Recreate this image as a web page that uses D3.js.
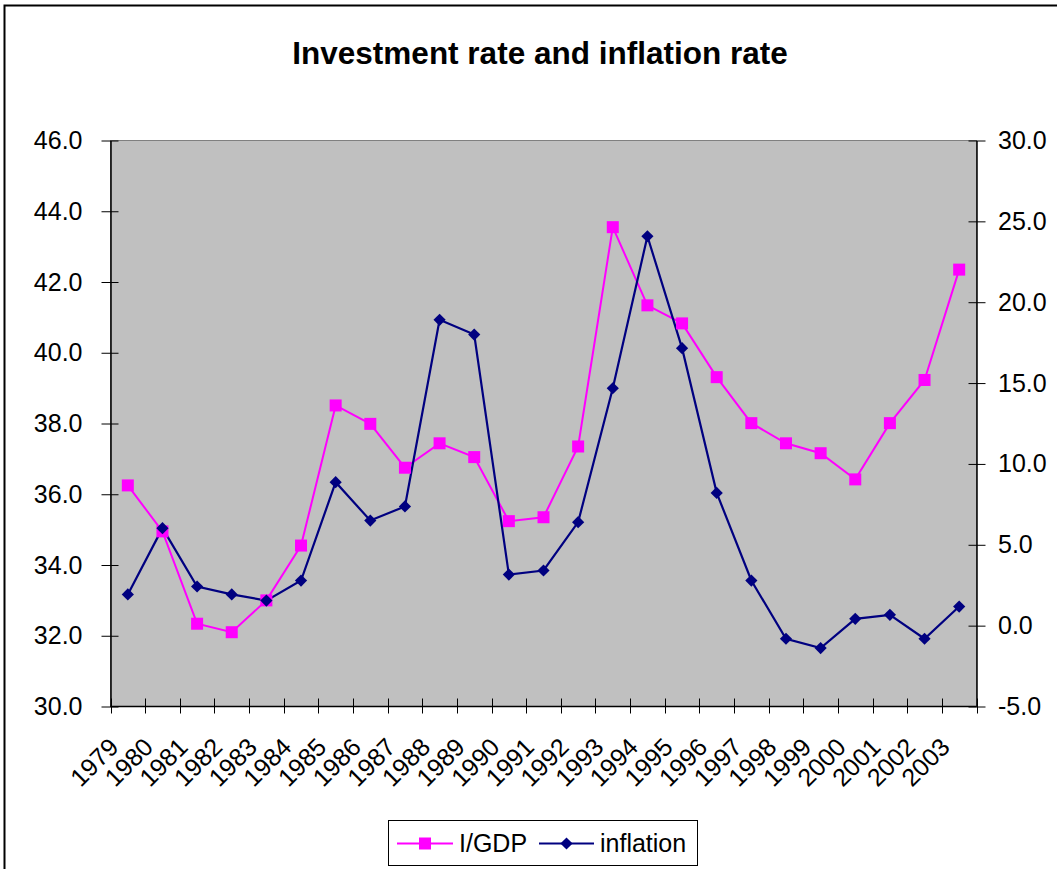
<!DOCTYPE html>
<html>
<head>
<meta charset="utf-8">
<script src="https://cdn.jsdelivr.net/npm/d3@7"></script>
<style>
  html, body { margin: 0; padding: 0; background: #fff; }
  svg { display: block; font-family: "Liberation Sans", Arial, sans-serif; }
</style>
</head>
<body>
<svg id="chart" width="1057" height="869"></svg>
<script>
const years = ["1979","1980","1981","1982","1983","1984","1985","1986","1987","1988","1989","1990","1991","1992","1993","1994","1995","1996","1997","1998","1999","2000","2001","2002","2003"];
const iGdp = [36.25, 34.95, 32.34, 32.10, 33.0, 34.55, 38.51, 37.99, 36.75, 37.44, 37.05, 35.24, 35.35, 37.35, 43.55, 41.34, 40.83, 39.31, 38.01, 37.44, 37.16, 36.42, 38.01, 39.23, 42.35];
const inflation = [1.93, 6.03, 2.42, 1.93, 1.55, 2.79, 8.87, 6.50, 7.37, 18.91, 18.0, 3.16, 3.41, 6.40, 14.68, 24.08, 17.16, 8.21, 2.79, -0.81, -1.39, 0.42, 0.67, -0.81, 1.18];
const leftTicks = [30, 32, 34, 36, 38, 40, 42, 44, 46];
const rightTicks = [-5, 0, 5, 10, 15, 20, 25, 30];
const titleText = "Investment rate and inflation rate";
const seriesNames = ["I/GDP", "inflation"];

const svg = d3.select("#chart");
const L = 110.5, R = 976.5, T = 140.5, B = 706.5;
const FS = 25;

// outer chart border
svg.append("rect").attr("x", 4.5).attr("y", 5.5).attr("width", 1200).attr("height", 1000)
  .attr("fill", "#fff").attr("stroke", "#000").attr("stroke-width", 2);

svg.append("text").attr("x", 540).attr("y", 64).attr("text-anchor", "middle")
  .attr("font-size", 31.5).attr("font-weight", "bold").text(titleText);

const x = d3.scaleBand().domain(years).range([L, R]).padding(0);
const yL = d3.scaleLinear().domain([30, 46]).range([B, T]);
const yR = d3.scaleLinear().domain([-5, 30]).range([B, T]);

// plot area
svg.append("rect").attr("x", L).attr("y", T).attr("width", R - L).attr("height", B - T)
  .attr("fill", "#C0C0C0").attr("stroke", "#808080").attr("stroke-width", 1);

const fmt = d => d.toFixed(1);

// left axis
const gL = svg.append("g").attr("transform", `translate(${L},0)`)
  .call(d3.axisLeft(yL).tickValues(leftTicks).tickFormat(fmt).tickSizeInner(8).tickSizeOuter(0));
gL.select(".domain").attr("stroke", "#000").attr("stroke-width", 1.5);
gL.selectAll(".tick line").attr("x1", -9).attr("x2", 8).attr("stroke", "#000");
gL.selectAll(".tick text").attr("font-size", FS).attr("font-family", "Liberation Sans, Arial, sans-serif").attr("fill", "#000").attr("x", -28);

// right axis
const gR = svg.append("g").attr("transform", `translate(${R},0)`)
  .call(d3.axisRight(yR).tickValues(rightTicks).tickFormat(fmt).tickSizeInner(8).tickSizeOuter(0));
gR.select(".domain").attr("stroke", "#000").attr("stroke-width", 1.5);
gR.selectAll(".tick line").attr("x1", -8).attr("x2", 9).attr("stroke", "#000");
gR.selectAll(".tick text").attr("font-size", FS).attr("font-family", "Liberation Sans, Arial, sans-serif").attr("fill", "#000").attr("x", 21.5);

// bottom axis
svg.append("line").attr("x1", L).attr("x2", R).attr("y1", B).attr("y2", B).attr("stroke", "#000").attr("stroke-width", 1.5);
const bounds = years.map(y => x(y)).concat([x(years[years.length - 1]) + x.bandwidth()]);
svg.append("g").selectAll("line").data(bounds).join("line")
  .attr("x1", d => Math.round(d) + 0.5).attr("x2", d => Math.round(d) + 0.5)
  .attr("y1", B - 8).attr("y2", B + 7).attr("stroke", "#000");
svg.append("g").selectAll("text").data(years).join("text")
  .attr("transform", d => `translate(${x(d) + x.bandwidth() / 2 - 14},${B + 36}) rotate(-45)`)
  .attr("text-anchor", "end").attr("dy", "0.35em").attr("font-size", FS).text(d => d);

// lines
const lineL = d3.line().x((d, i) => x(years[i]) + x.bandwidth() / 2).y(d => yL(d));
const lineR = d3.line().x((d, i) => x(years[i]) + x.bandwidth() / 2).y(d => yR(d));

svg.append("path").datum(iGdp).attr("d", lineL).attr("fill", "none").attr("stroke", "#FF00FF").attr("stroke-width", 2);
svg.append("path").datum(inflation).attr("d", lineR).attr("fill", "none").attr("stroke", "#000080").attr("stroke-width", 2.2);

const sq = 12;
svg.append("g").selectAll("rect").data(iGdp).join("rect")
  .attr("x", (d, i) => x(years[i]) + x.bandwidth() / 2 - sq / 2)
  .attr("y", d => yL(d) - sq / 2)
  .attr("width", sq).attr("height", sq).attr("fill", "#FF00FF");

const diamond = d3.symbol().type(d3.symbolDiamond2).size(95);
svg.append("g").selectAll("path").data(inflation).join("path")
  .attr("transform", (d, i) => `translate(${x(years[i]) + x.bandwidth() / 2},${yR(d)})`)
  .attr("d", diamond).attr("fill", "#000080");

// legend
const lg = svg.append("g");
lg.append("rect").attr("x", 388.5).attr("y", 820.5).attr("width", 309).attr("height", 45)
  .attr("fill", "#fff").attr("stroke", "#000").attr("stroke-width", 1);
const ly = 843.5;
lg.append("line").attr("x1", 397).attr("x2", 453).attr("y1", ly).attr("y2", ly).attr("stroke", "#FF00FF").attr("stroke-width", 2);
lg.append("rect").attr("x", 425 - sq / 2).attr("y", ly - sq / 2).attr("width", sq).attr("height", sq).attr("fill", "#FF00FF");
lg.append("text").attr("x", 459).attr("y", ly).attr("dy", "0.35em").attr("font-size", FS).text(seriesNames[0]);
lg.append("line").attr("x1", 539).attr("x2", 594).attr("y1", ly).attr("y2", ly).attr("stroke", "#000080").attr("stroke-width", 2);
lg.append("path").attr("transform", `translate(566.5,${ly})`).attr("d", diamond).attr("fill", "#000080");
lg.append("text").attr("x", 600).attr("y", ly).attr("dy", "0.35em").attr("font-size", FS).text(seriesNames[1]);
</script>
</body>
</html>
